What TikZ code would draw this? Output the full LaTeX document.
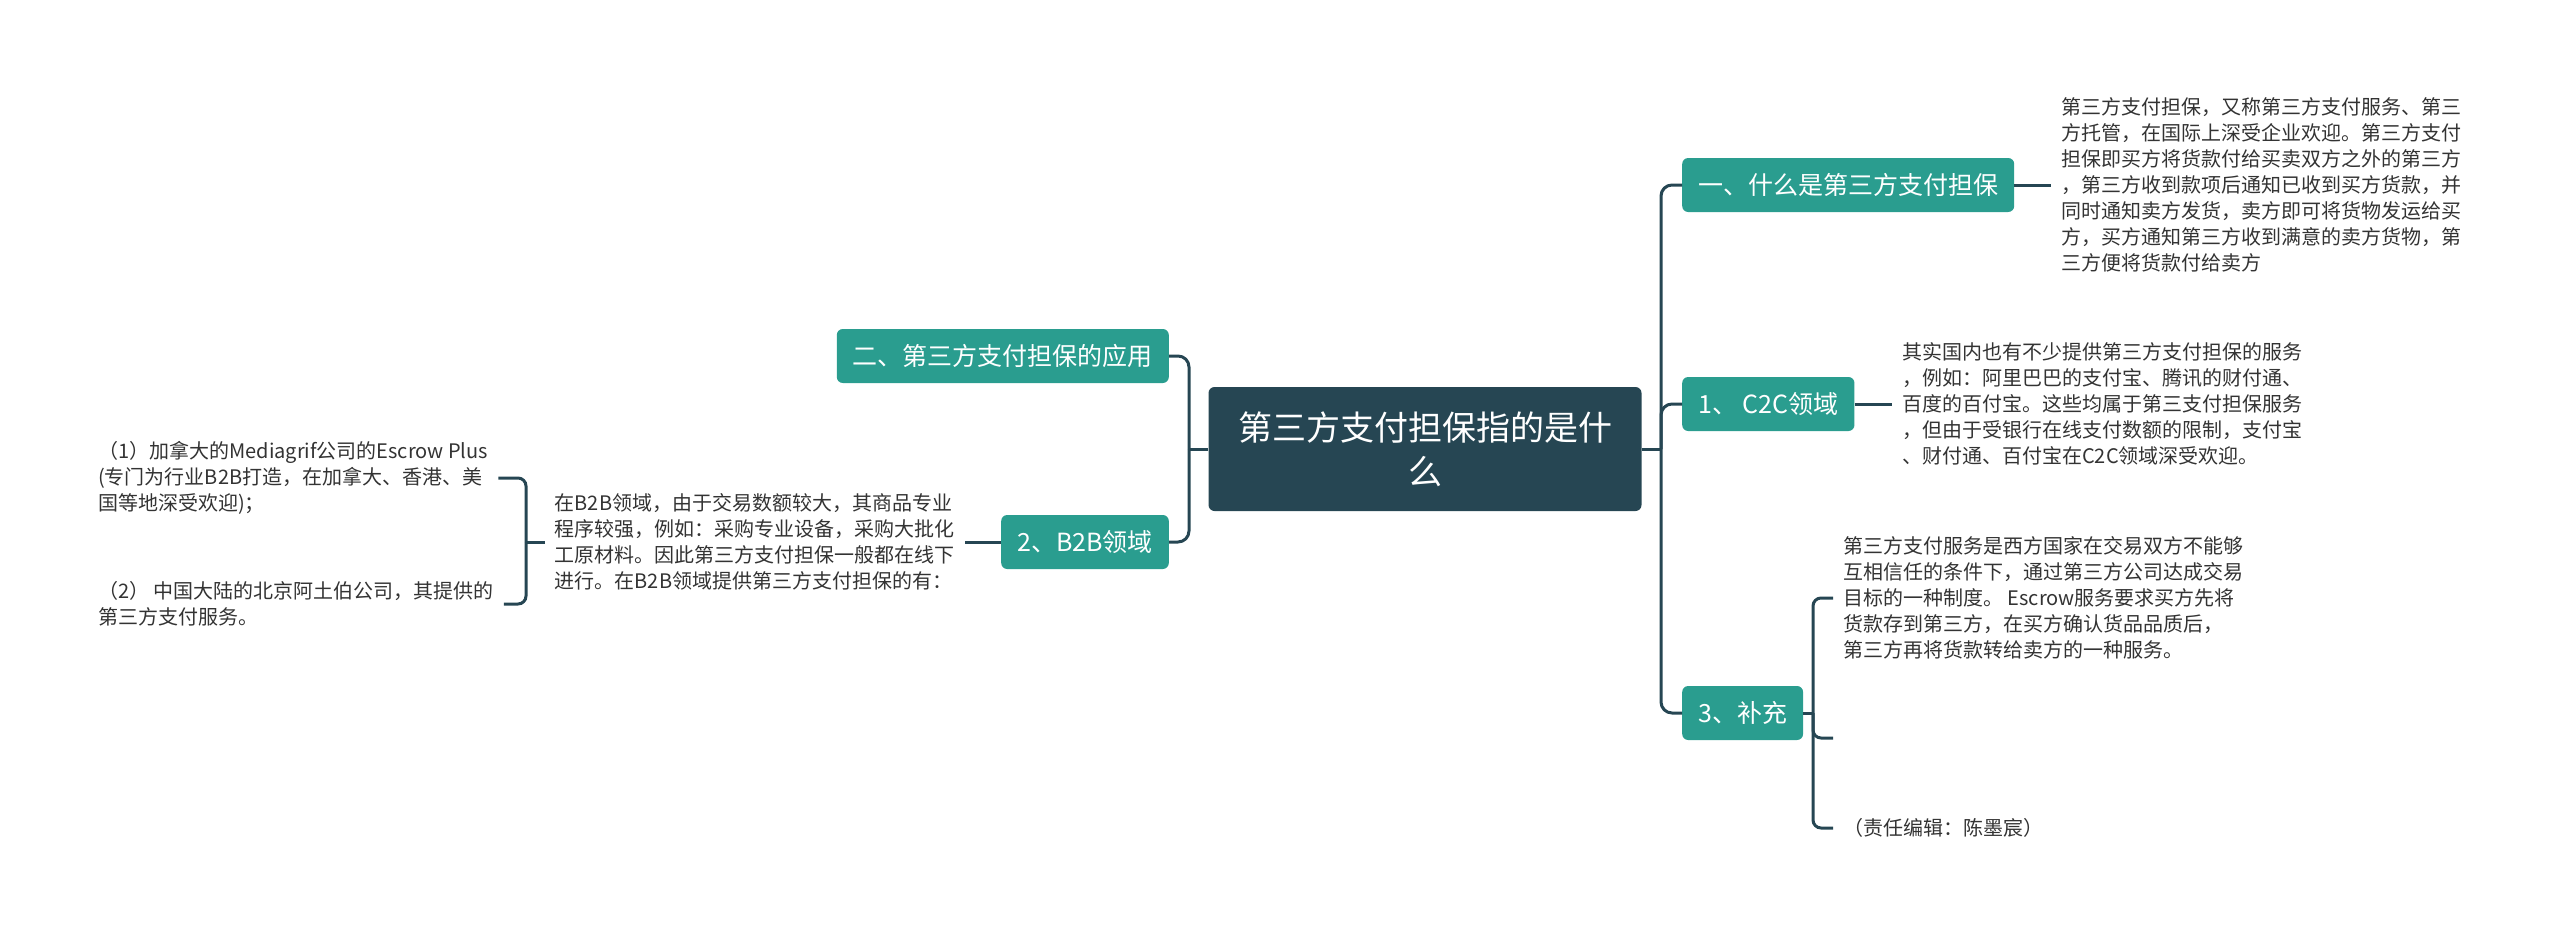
\documentclass[tikz,border=0pt]{standalone}
\usepackage{fontspec}
\setmainfont{Noto Sans CJK SC}
\usetikzlibrary{positioning}
\definecolor{hubdark}{HTML}{264653}
\definecolor{branchteal}{HTML}{2A9D8F}
\definecolor{notegray}{HTML}{333333}

\begin{document}
\begin{tikzpicture}[x=1pt, y=-1pt,
  hub/.style={fill=hubdark, rounded corners=6pt, text=white, align=center,
              font=\fontsize{34}{44}\selectfont, minimum width=433pt, minimum height=124pt},
  branch/.style={fill=branchteal, rounded corners=6pt, text=white,
                 font=\fontsize{25}{30}\selectfont, inner xsep=16pt, minimum height=54pt},
  note/.style={align=left, text=notegray, font=\fontsize{20}{26}\selectfont,
               inner xsep=10pt, inner ysep=0pt},
  link/.style={draw=hubdark, line width=3pt, rounded corners=11pt}]

\useasboundingbox (0,0) rectangle (2560,935);

% ---------- centre ----------
\node[hub]                   (hub) at (1425,449) {第三方支付担保指的是什\\么};
\coordinate                  (r-tr) at (1661,449);
\coordinate                  (l-tr) at (1189,449);

% ---------- right ----------
\node[branch, anchor=west]   (r-b1) at (1682,185) {一、什么是第三方支付担保};
\node[branch, anchor=west]   (r-b2) at (1682,404) {1、 C2C领域};
\node[branch, anchor=west]   (r-b3) at (1682,713) {3、补充};

\node[note, anchor=west]     (r-n1) at (2051,185) {第三方支付担保，又称第三方支付服务、第三\\
  方托管，在国际上深受企业欢迎。第三方支付\\
  担保即买方将货款付给买卖双方之外的第三方\\
  ，第三方收到款项后通知已收到买方货款，并\\
  同时通知卖方发货，卖方即可将货物发运给买\\
  方，买方通知第三方收到满意的卖方货物，第\\
  三方便将货款付给卖方};
\node[note, anchor=west]     (r-n2) at (1892,404) {其实国内也有不少提供第三方支付担保的服务\\
  ，例如：阿里巴巴的支付宝、腾讯的财付通、\\
  百度的百付宝。这些均属于第三支付担保服务\\
  ，但由于受银行在线支付数额的限制，支付宝\\
  、财付通、百付宝在C2C领域深受欢迎。};
\coordinate                  (r-br) at (1813,713);
\node[note, anchor=west]     (r-n3) at (1833,598) {第三方支付服务是西方国家在交易双方不能够\\
  互相信任的条件下，通过第三方公司达成交易\\
  目标的一种制度。 Escrow服务要求买方先将\\
  货款存到第三方，在买方确认货品品质后，\\
  第三方再将货款转给卖方的一种服务。};
\coordinate                  (r-n4) at (1833,738);
\node[note, anchor=west]     (r-n5) at (1833,828) {（责任编辑：陈墨宸）};

% ---------- left ----------
\node[branch, anchor=east]   (l-b1) at (1169,356) {二、第三方支付担保的应用};
\node[branch, anchor=east]   (l-b2) at (1169,542) {2、B2B领域};

\node[note, anchor=east]     (l-n1) at (965,542) {在B2B领域，由于交易数额较大，其商品专业\\
  程序较强，例如：采购专业设备，采购大批化\\
  工原材料。因此第三方支付担保一般都在线下\\
  进行。在B2B领域提供第三方支付担保的有：};
\coordinate                  (l-br) at (526,542);
\node[note, anchor=west]     (l-c1) at (88,478) {（1）加拿大的Mediagrif公司的Escrow Plus\\
  (专门为行业B2B打造，在加拿大、香港、美\\
  国等地深受欢迎)；};
\node[note, anchor=west]     (l-c2) at (88,604) {（2） 中国大陆的北京阿土伯公司，其提供的\\
  第三方支付服务。};

% connectors
\draw[link] (hub.east) -- (r-tr);
\draw[link] (hub.west) -- (l-tr);
\foreach \b in {r-b1, r-b2, r-b3} {
  \draw[link] (r-tr) |- (\b.west);
}
\foreach \b in {l-b1, l-b2} {
  \draw[link] (l-tr) |- (\b.east);
}
\draw[link] (r-b1.east) -- (r-n1.west);
\draw[link] (r-b2.east) -- (r-n2.west);
\draw[link] (r-b3.east) -- (r-br);
\draw[link, rounded corners=8pt] (r-br) |- (r-n3.west);
\draw[link, rounded corners=8pt] (r-br) |- (r-n4);
\draw[link, rounded corners=8pt] (r-br) |- (r-n5.west);
\draw[link] (l-b2.west) -- (l-n1.east);
\draw[link] (l-n1.west) -- (l-br);
\draw[link, rounded corners=8pt] (l-br) |- (l-c1.east);
\draw[link, rounded corners=8pt] (l-br) |- (l-c2.east);
\end{tikzpicture}
\end{document}
